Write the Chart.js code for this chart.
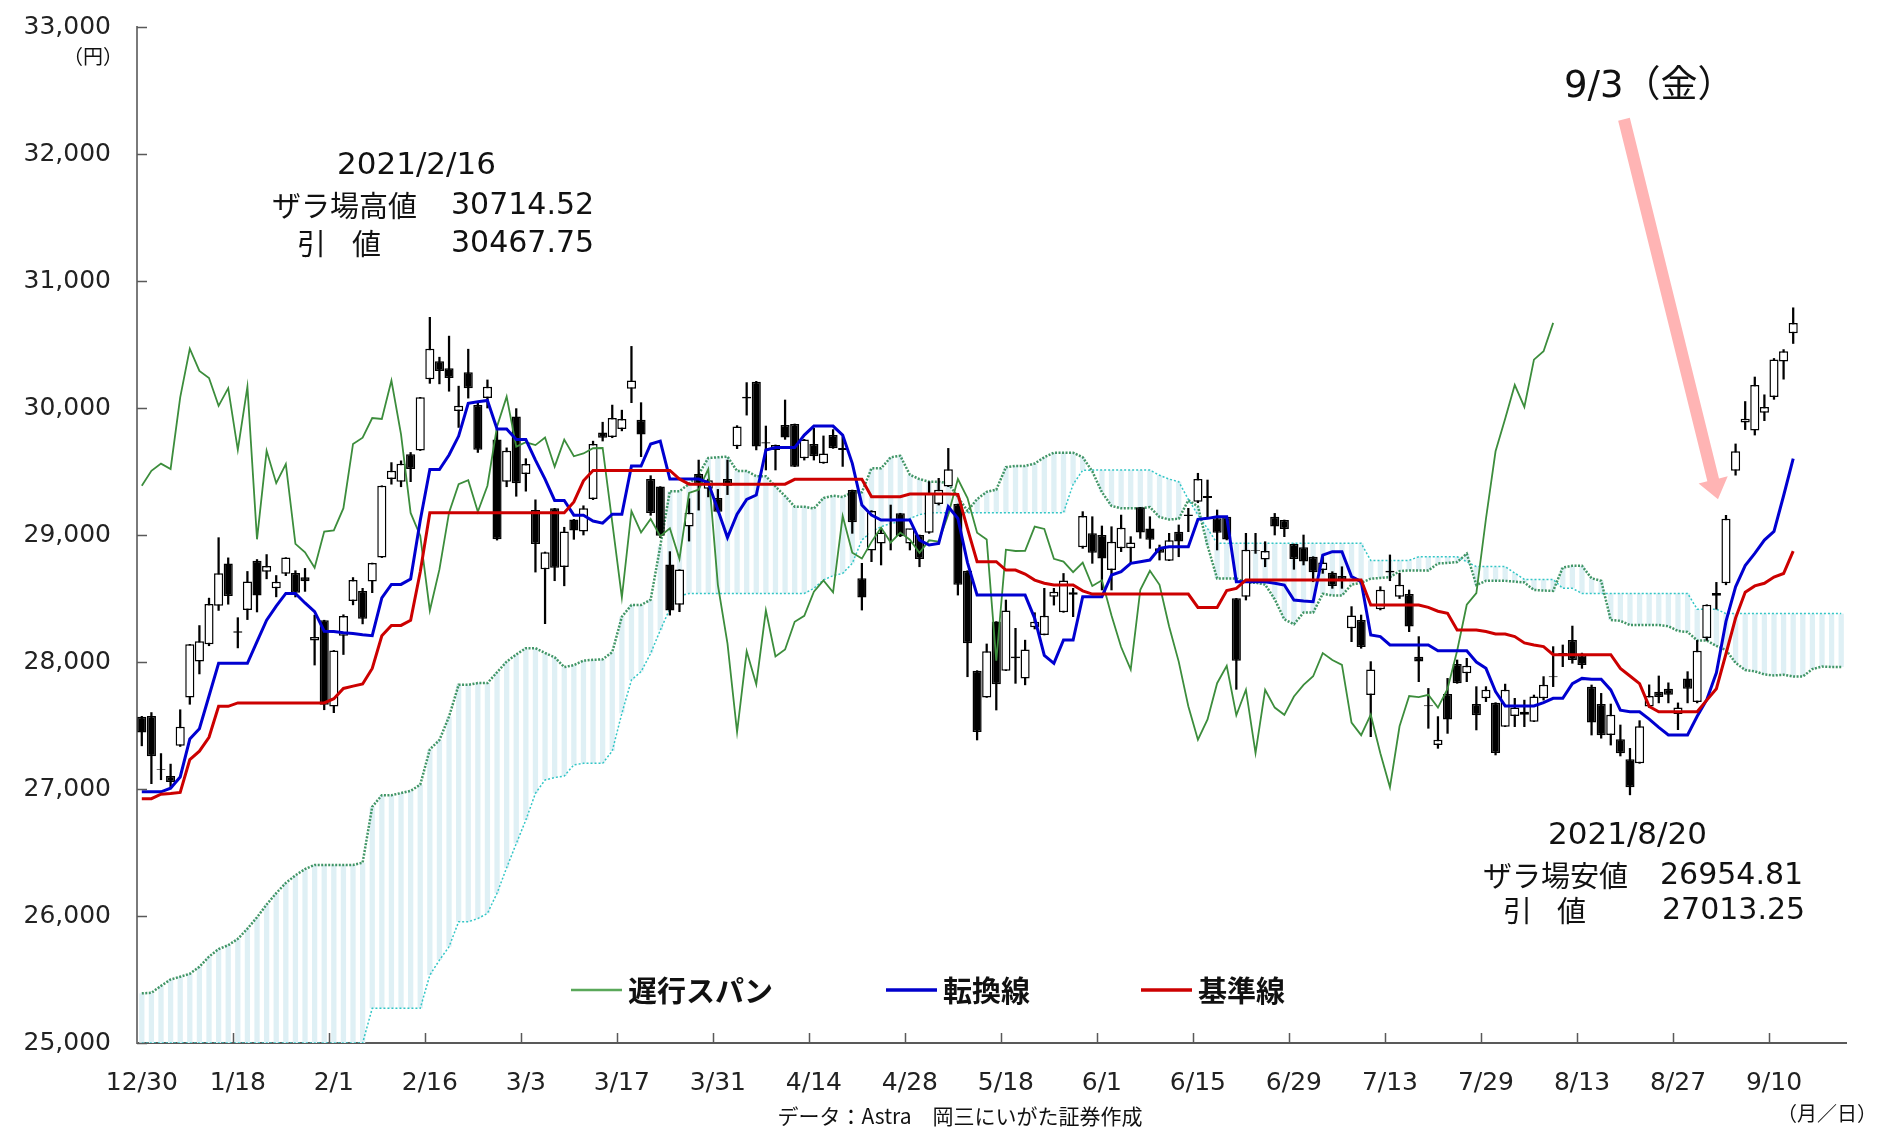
<!DOCTYPE html>
<html lang="ja">
<head>
<meta charset="utf-8">
<title>日経平均 一目均衡表</title>
<script src="https://cdn.jsdelivr.net/npm/chart.js@4.4.1/dist/chart.umd.min.js"></script>
<style>
  html, body { margin: 0; padding: 0; background: #fff; }
  #wrap { width: 1886px; height: 1128px; }
</style>
</head>
<body>
<div id="wrap"><canvas id="myChart" width="1886" height="1128"></canvas></div>
<script>
// 営業日（先の5日は雲だけ）
const dates = ['12/30',
  '1/4','1/5','1/6','1/7','1/8','1/12','1/13','1/14','1/15','1/18','1/19','1/20','1/21','1/22','1/25','1/26','1/27','1/28','1/29',
  '2/1','2/2','2/3','2/4','2/5','2/8','2/9','2/10','2/12','2/15','2/16','2/17','2/18','2/19','2/22','2/24','2/25','2/26',
  '3/1','3/2','3/3','3/4','3/5','3/8','3/9','3/10','3/11','3/12','3/15','3/16','3/17','3/18','3/19','3/22','3/23','3/24','3/25','3/26','3/29','3/30','3/31',
  '4/1','4/2','4/5','4/6','4/7','4/8','4/9','4/12','4/13','4/14','4/15','4/16','4/19','4/20','4/21','4/22','4/23','4/26','4/27','4/28','4/30',
  '5/6','5/7','5/10','5/11','5/12','5/13','5/14','5/17','5/18','5/19','5/20','5/21','5/24','5/25','5/26','5/27','5/28','5/31',
  '6/1','6/2','6/3','6/4','6/7','6/8','6/9','6/10','6/11','6/14','6/15','6/16','6/17','6/18','6/21','6/22','6/23','6/24','6/25','6/28','6/29','6/30',
  '7/1','7/2','7/5','7/6','7/7','7/8','7/9','7/12','7/13','7/14','7/15','7/16','7/19','7/20','7/21','7/26','7/27','7/28','7/29','7/30',
  '8/2','8/3','8/4','8/5','8/6','8/10','8/11','8/12','8/13','8/16','8/17','8/18','8/19','8/20','8/23','8/24','8/25','8/26','8/27','8/30','8/31',
  '9/1','9/2','9/3','9/6','9/7','9/8','9/9','9/10','9/13','9/14',
  '9/15','9/16','9/17','9/21','9/22'];

// 四本値
const open = [27568,27575,27151,27102,27340,27720,28003,28140,28442,28776,
  28230,28410,28798,28710,28580,28695,28700,28668,28170,28329,
  27649,28207,28480,28559,28633,28822,29440,29420,29636,29665,
  30227,30368,30313,29977,30281,30023,30078,29752,29419,29934,
  29481,29196,28730,29210,28749,29123,29028,29283,29807,29771,
  29834,30151,29907,29440,29381,28768,28451,29066,29481,29364,
  29291,29440,29698,30075,30207,29720,29669,29866,29874,29604,
  29717,29564,29787,29670,29354,28659,28877,28934,29110,29171,
  28934,29000,29018,29244,29381,29244,28719,27932,27721,28318,
  27932,28030,27871,28273,28213,28514,28391,28530,28903,29013,
  29000,28724,28895,28895,29218,29052,28895,28798,29026,29150,
  29262,29307,29131,29144,28501,28514,28880,28808,29144,29118,
  28929,28903,28829,28724,28703,28677,28265,28331,27740,28415,
  28705,28514,28535,28042,27660,27346,27748,27984,27911,27669,
  27714,27680,27491,27575,27609,27530,27714,27880,28047,28173,
  28055,27806,27669,27425,27391,27234,27202,27650,27766,27790,
  27590,27871,27685,28188,28522,28620,29506,29886,29822,29963,
  30086,30367,30589];
const high = [27572,27602,27279,27196,27624,28139,28287,28503,28979,28820,
  28349,28713,28807,28846,28681,28822,28719,28737,28369,28329,
  28091,28372,28665,28580,28779,29388,29570,29584,29650,30084,
  30714,30400,30566,30172,30463,30050,30221,29833,29686,29995,
  29601,29277,28866,29210,29061,29123,29230,29739,29888,30023,
  29983,30485,30042,29467,29381,28869,28727,29286,29590,29440,
  29359,29590,29861,30200,30210,29858,29709,30063,29874,29753,
  29840,29780,29830,29774,29354,28777,29192,29053,29236,29171,
  29044,29000,29420,29446,29682,29244,28719,27932,28142,28318,
  28488,28265,28172,28388,28580,28580,28697,28580,29184,29144,
  29071,29065,29157,28987,29218,29144,28921,29013,29079,29210,
  29486,29433,29197,29144,28501,29013,29013,28947,29170,29118,
  28929,29000,28829,28835,28711,28750,28436,28370,28003,28593,
  28843,28698,28567,28200,27792,27570,27871,28016,28029,27806,
  27806,27680,27826,27714,27700,27740,27885,28121,28134,28283,
  28070,27819,27753,27669,27504,27320,27538,27820,27890,27836,
  27678,27924,28170,28451,28627,29155,29717,30051,30244,30104,
  30390,30460,30789];
const low = [27340,27042,27073,27002,27335,27667,27906,28128,28406,28455,
  28111,28334,28394,28655,28513,28680,28512,28556,27976,27624,
  27601,28059,28450,28300,28546,28822,29400,29380,29420,29665,
  30194,30190,30132,29847,30078,29650,30000,28960,29380,29305,
  29345,28708,28302,28640,28600,28966,29000,29278,29740,29766,
  29820,30042,29617,29155,28980,28369,28396,28952,29196,29300,
  29180,29318,29680,29944,29670,29512,29512,29753,29538,29590,
  29590,29564,29682,29540,29013,28409,28790,28764,28882,28987,
  28882,28750,29013,29236,29381,28527,27884,27386,27721,27622,
  27932,27832,27820,28260,28213,28448,28391,28357,28895,28777,
  28567,28567,28869,28777,28974,28895,28803,28798,28829,29026,
  29254,29144,28882,28961,27785,28488,28855,28750,29000,28987,
  28730,28764,28632,28698,28580,28580,28160,28108,27412,28410,
  28640,28500,28239,27845,27478,27320,27438,27832,27845,27465,
  27688,27268,27491,27491,27491,27530,27700,27806,27963,27990,
  27950,27425,27400,27346,27260,26954,27202,27643,27678,27678,
  27467,27678,27678,28170,28416,28608,29471,29830,29787,29900,
  30068,30227,30508];
const close = [27444,27258,27158,27055,27490,28139,28164,28456,28698,28519,
  28242,28633,28523,28756,28631,28822,28546,28635,28197,27663,
  28091,28362,28646,28341,28779,29388,29505,29562,29520,30084,
  30467,30292,30236,30017,30156,29671,30168,28966,29663,29408,
  29559,28930,28864,28743,29027,29036,29211,29717,29766,29921,
  29914,30216,29792,29174,28995,28405,28729,29176,29400,29432,
  29183,29388,29854,30089,29696,29730,29708,29768,29538,29751,
  29620,29642,29683,29685,29100,28508,29188,29020,29126,28991,
  29053,28812,29331,29357,29518,28608,28147,27448,28084,27824,
  28406,28044,28098,28317,28364,28553,28642,28549,29149,28860,
  28814,28946,29058,28941,29019,28963,28860,28958,28948,29161,
  29441,29291,29018,28964,28010,28884,28874,28875,29066,29048,
  28812,28791,28707,28783,28598,28643,28366,28118,27940,28569,
  28718,28608,28279,28003,27652,27388,27548,27833,27970,27581,
  27782,27283,27781,27641,27584,27728,27820,27888,28070,28015,
  27977,27523,27424,27585,27281,27013,27494,27732,27724,27742,
  27641,27789,28089,28451,28543,29128,29659,29916,30181,30008,
  30381,30447,30670];

// 転換線
const tenkan = [26978,26978,26978,27006,27095,27393,27475,27732,27990,27990,
  27990,27990,28160,28329,28440,28540,28540,28465,28397,28242,
  28240,28230,28225,28215,28207,28505,28611,28611,28654,29115,
  29516,29516,29630,29779,30037,30050,30059,29834,29834,29752,
  29752,29590,29440,29272,29272,29156,29156,29110,29093,29164,
  29164,29543,29543,29717,29739,29440,29440,29440,29440,29413,
  29197,28980,29164,29281,29315,29669,29688,29688,29688,29787,
  29858,29858,29858,29787,29564,29236,29157,29118,29118,29118,
  29118,28960,28921,28934,29223,29131,28783,28527,28527,28527,
  28527,28527,28527,28344,28052,27989,28173,28173,28514,28514,
  28514,28685,28711,28777,28790,28803,28895,28908,28908,28908,
  29123,29131,29144,29144,28632,28632,28632,28632,28620,28606,
  28488,28480,28475,28842,28869,28869,28672,28633,28213,28200,
  28134,28134,28134,28134,28134,28089,28089,28089,28089,28000,
  27950,27767,27654,27654,27654,27654,27680,27714,27714,27830,
  27871,27865,27865,27780,27620,27608,27608,27550,27485,27425,
  27425,27425,27573,27703,27915,28320,28592,28759,28855,28960,
  29028,29309,29602];

// 基準線
const kijun = [26924,26924,26959,26965,26973,27231,27298,27407,27651,27651,
  27678,27678,27678,27678,27678,27678,27678,27678,27678,27678,
  27711,27792,27810,27827,27949,28207,28288,28288,28329,28709,
  29175,29175,29175,29175,29175,29175,29175,29175,29175,29175,
  29175,29175,29175,29175,29175,29260,29427,29508,29508,29508,
  29508,29508,29508,29508,29508,29508,29440,29400,29400,29400,
  29400,29400,29400,29400,29400,29400,29400,29400,29438,29438,
  29438,29438,29438,29438,29438,29438,29302,29302,29302,29302,
  29323,29323,29323,29323,29323,29320,29050,28790,28790,28790,
  28724,28724,28693,28645,28620,28606,28606,28606,28560,28535,
  28535,28535,28535,28535,28535,28535,28535,28535,28535,28535,
  28430,28430,28430,28562,28580,28646,28646,28646,28646,28646,
  28646,28646,28646,28646,28646,28646,28646,28646,28449,28449,
  28449,28449,28449,28449,28430,28400,28383,28252,28252,28252,
  28240,28220,28220,28200,28150,28134,28121,28058,28058,28058,
  28058,28058,28058,28058,27950,27890,27830,27650,27608,27608,
  27608,27608,27608,27700,27790,28065,28346,28550,28599,28620,
  28669,28697,28873];

// 先行スパン1
const spanA = [25391,25395,25450,25500,25522,25545,25600,25680,25740,25770,
  25820,25900,25990,26090,26180,26260,26320,26370,26402,26402,
  26402,26402,26402,26420,26860,26951,26951,26968,26985,27034,
  27312,27386,27570,27820,27820,27834,27834,27919,28003,28059,
  28109,28109,28071,28037,27960,27975,28011,28017,28021,28078,
  28356,28449,28449,28491,28912,29345,29345,29402,29477,29606,
  29612,29617,29504,29504,29463,29463,29382,29307,29223,29223,
  29208,29291,29309,29300,29336,29336,29525,29525,29612,29623,
  29474,29440,29420,29420,29406,29298,29190,29282,29340,29357,
  29534,29544,29544,29563,29612,29648,29648,29648,29612,29501,
  29337,29229,29210,29210,29210,29220,29141,29122,29128,29273,
  29225,28916,28658,28658,28658,28625,28625,28610,28494,28336,
  28297,28389,28389,28537,28524,28524,28610,28623,28656,28662,
  28669,28715,28721,28721,28721,28776,28780,28787,28853,28606,
  28639,28639,28639,28633,28626,28567,28563,28560,28744,28757,
  28757,28659,28639,28331,28324,28291,28291,28291,28291,28282,
  28244,28236,28170,28170,28126,28095,27993,27937,27927,27902,
  27894,27900,27886,27886,27944,27964,27961,27961];

// 先行スパン2（25,000未満は軸で切れている）
const spanB = [25000,25000,25000,25000,25000,25000,25000,25000,25000,25000,
  25000,25000,25000,25000,25000,25000,25000,25000,25000,25000,
  25000,25000,25000,25000,25273,25273,25273,25273,25273,25273,
  25535,25653,25758,25955,25955,25980,26021,26180,26380,26570,
  26756,26966,27071,27090,27102,27190,27202,27202,27202,27300,
  27596,27858,27924,28068,28250,28420,28520,28540,28540,28540,
  28540,28540,28540,28540,28540,28540,28540,28540,28540,28540,
  28580,28646,28680,28698,28777,28961,29026,29066,29090,29105,
  29131,29160,29176,29176,29176,29176,29176,29176,29176,29176,
  29176,29176,29176,29176,29176,29176,29176,29399,29510,29511,
  29511,29511,29511,29511,29511,29511,29470,29440,29420,29280,
  29160,29050,28935,28935,28935,28935,28935,28935,28935,28935,
  28935,28935,28935,28935,28935,28935,28935,28935,28800,28800,
  28800,28800,28800,28829,28829,28829,28829,28829,28790,28751,
  28751,28751,28751,28700,28650,28650,28650,28650,28580,28580,
  28540,28540,28540,28540,28540,28540,28540,28540,28540,28540,
  28540,28540,28416,28416,28416,28381,28381,28381,28381,28381,
  28381,28381,28381,28381,28381,28381,28381,28381];

const yTicks = [25000, 26000, 27000, 28000, 29000, 30000, 31000, 32000, 33000];
const chikouShift = 25;

// ---- データ組み立て ----
const cloud = spanA.map((a, k) => [Math.min(a, spanB[k]), Math.max(a, spanB[k])]);
const bodies = open.map((o, k) => [o, close[k]]);
const wicks = low.map((l, k) => [l, high[k]]);
const bodyColors = open.map((o, k) => close[k] >= o ? '#ffffff' : '#000000');
const chikou = close.slice(chikouShift);

const NUM = '"DejaVu Sans", "Noto Sans CJK JP"';
const JP = '"Noto Sans CJK JP"';

// 目盛・注記・凡例・矢印
const overlay = {
  id: 'overlay',
  afterDraw(chart) {
    const { ctx, chartArea: a, scales: { x, y } } = chart;
    ctx.save();

    // 内向きの目盛
    ctx.strokeStyle = '#595959';
    ctx.lineWidth = 1.5;
    ctx.beginPath();
    yTicks.forEach(v => {
      const py = Math.round(y.getPixelForValue(v)) + 0.5;
      ctx.moveTo(a.left, py); ctx.lineTo(a.left + 10, py);
    });
    for (let k = 10; k < dates.length; k += 10) {
      const px = Math.round((x.getPixelForValue(k - 1) + x.getPixelForValue(k)) / 2) + 0.5;
      ctx.moveTo(px, a.bottom); ctx.lineTo(px, a.bottom - 10);
    }
    ctx.stroke();

    const txt = (s, px, py, font, align) => {
      ctx.font = font;
      ctx.textAlign = align || 'left';
      ctx.textBaseline = 'middle';
      ctx.fillText(s, px, py);
    };
    ctx.fillStyle = '#111';

    // 単位
    txt('（円）', 93, 56, '20px ' + JP, 'center');
    txt('（月／日）', 1827, 1113, '20px ' + JP, 'center');
    txt('データ：Astra　岡三にいがた証券作成', 960, 1116, '21px ' + JP, 'center');

    // 高値の注記
    txt('2021/2/16', 337, 166, '31px ' + NUM);
    txt('ザラ場高値', 272, 206, '29px ' + JP);
    txt('30714.52', 451, 206, '30px ' + NUM);
    txt('引', 297, 244, '29px ' + JP);
    txt('値', 352, 244, '29px ' + JP);
    txt('30467.75', 451, 244, '30px ' + NUM);

    // 安値の注記
    txt('2021/8/20', 1548, 836, '31px ' + NUM);
    txt('ザラ場安値', 1483, 876, '29px ' + JP);
    txt('26954.81', 1660, 876, '30px ' + NUM);
    txt('引', 1503, 911, '29px ' + JP);
    txt('値', 1557, 911, '29px ' + JP);
    txt('27013.25', 1662, 911, '30px ' + NUM);

    txt('9/3（金）', 1564, 87, '37px ' + NUM);

    // 9/3 を指す矢印
    const i93 = dates.indexOf('9/3');
    const tipX = x.getPixelForValue(i93) - 8;
    const tipY = y.getPixelForValue(high[i93]) - 16;
    const tailX = tipX - 94, tailY = tipY - 380;
    const len = Math.hypot(tipX - tailX, tipY - tailY);
    const ux = (tipX - tailX) / len, uy = (tipY - tailY) / len;
    const nx = -uy, ny = ux;
    const headLen = 20, w = 12, hw = 30;
    const bx = tipX - ux * headLen, by = tipY - uy * headLen;
    ctx.fillStyle = '#ffb4b4';
    ctx.beginPath();
    ctx.moveTo(tailX + nx * w / 2, tailY + ny * w / 2);
    ctx.lineTo(bx + nx * w / 2, by + ny * w / 2);
    ctx.lineTo(bx + nx * hw / 2, by + ny * hw / 2);
    ctx.lineTo(tipX, tipY);
    ctx.lineTo(bx - nx * hw / 2, by - ny * hw / 2);
    ctx.lineTo(bx - nx * w / 2, by - ny * w / 2);
    ctx.lineTo(tailX - nx * w / 2, tailY - ny * w / 2);
    ctx.closePath();
    ctx.fill();

    // 凡例
    const legend = [
      { label: '遅行スパン', color: '#5aa85a', width: 2.5, x0: 571 },
      { label: '転換線', color: '#0000cc', width: 3.5, x0: 886 },
      { label: '基準線', color: '#cc0000', width: 3.5, x0: 1141 }
    ];
    legend.forEach(it => {
      ctx.strokeStyle = it.color;
      ctx.lineWidth = it.width;
      ctx.beginPath();
      ctx.moveTo(it.x0, 990); ctx.lineTo(it.x0 + 51, 990);
      ctx.stroke();
      ctx.fillStyle = '#111';
      txt(it.label, it.x0 + 57, 991, 'bold 29px ' + JP);
    });

    ctx.restore();
  }
};

new Chart(document.getElementById('myChart'), {
  type: 'bar',
  data: {
    labels: dates,
    datasets: [
      { type: 'line', label: '基準線', data: kijun, borderColor: '#cc0000', borderWidth: 3,
        pointRadius: 0, tension: 0, fill: false, order: 1 },
      { type: 'line', label: '転換線', data: tenkan, borderColor: '#0000d0', borderWidth: 3,
        pointRadius: 0, tension: 0, fill: false, order: 2 },
      { type: 'line', label: '遅行スパン', data: chikou, borderColor: '#3c8d3c', borderWidth: 1.8,
        pointRadius: 0, tension: 0, fill: false, order: 3 },
      { type: 'bar', label: '実体', data: bodies, backgroundColor: bodyColors, borderColor: '#000',
        borderWidth: 1.5, borderSkipped: false, barPercentage: 0.95, categoryPercentage: 1,
        grouped: false, order: 4 },
      { type: 'bar', label: 'ヒゲ', data: wicks, backgroundColor: '#000', barThickness: 1.6,
        grouped: false, order: 5 },
      { type: 'line', label: '先行スパン1', data: spanA, borderColor: 'rgba(46,139,87,0.9)',
        borderWidth: 2.5, borderDash: [2, 1.5], pointRadius: 0, tension: 0, fill: false, order: 6 },
      { type: 'line', label: '先行スパン2', data: spanB, borderColor: '#33c6c6',
        borderWidth: 1.5, borderDash: [2, 2], pointRadius: 0, tension: 0, fill: false, order: 7 },
      { type: 'bar', label: '雲', data: cloud, backgroundColor: '#dff0f5', borderWidth: 0,
        barPercentage: 0.55, categoryPercentage: 1, grouped: false, order: 8 }
    ]
  },
  options: {
    responsive: false,
    devicePixelRatio: 1,
    animation: false,
    events: [],
    layout: { padding: { left: 0, top: 27, right: 40, bottom: 0 } },
    plugins: { legend: { display: false }, tooltip: { enabled: false } },
    scales: {
      x: {
        offset: true,
        grid: { display: false, drawTicks: false },
        border: { color: '#595959', width: 2 },
        ticks: {
          autoSkip: false, maxRotation: 0, minRotation: 0, padding: 25,
          color: '#222', font: { family: 'DejaVu Sans', size: 25 },
          callback: (v, i) => i % 10 === 0 ? dates[i] : null
        },
        afterFit: s => { s.height = 85; }
      },
      y: {
        min: 25000, max: 33000,
        grid: { display: false, drawTicks: false },
        border: { color: '#7a7a7a', width: 2 },
        ticks: {
          stepSize: 1000, padding: 26, color: '#222',
          font: { family: 'DejaVu Sans', size: 25 },
          callback: v => v.toLocaleString('en-US')
        },
        // ラベルの余白で上端が下がらないようにする
        afterFit: s => { s.width = 137; s.paddingTop = 0; s.paddingBottom = 0; }
      }
    }
  },
  plugins: [overlay]
});
</script>
</body>
</html>
